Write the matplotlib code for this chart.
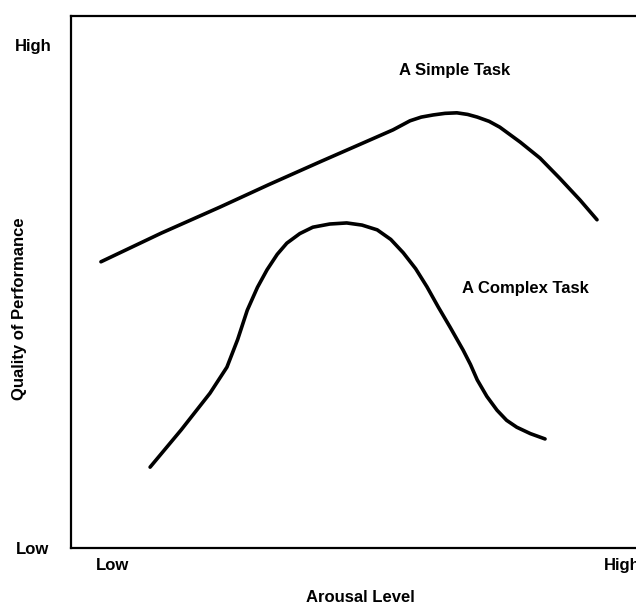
import matplotlib
matplotlib.use("Agg")
import matplotlib.pyplot as plt

# Data (arousal 0-100, performance 0-100)
simple_x = [5.3, 16.0, 26.4, 35.0, 44.1, 51.2, 57.0, 60.0, 62.0, 64.1, 66.2, 68.3, 70.2, 71.9, 74.0, 75.9,
            79.5, 83.0, 86.5, 90.1, 93.1]
simple_y = [53.8, 59.2, 64.1, 68.3, 72.6, 75.9, 78.6, 80.3, 81.0, 81.4, 81.7, 81.8, 81.5, 81.0, 80.2, 79.1,
            76.3, 73.3, 69.5, 65.4, 61.7]

complex_x = [14.0, 19.5, 24.6, 27.6, 29.5, 31.2, 33.0, 34.7, 36.5, 38.2, 40.5, 42.8, 45.8, 48.8, 51.5, 54.2,
             56.6, 58.8, 61.0, 63.0, 65.0, 67.1, 69.4, 70.7, 71.9, 73.6, 75.4, 77.1, 78.9, 81.3, 83.9]
complex_y = [15.2, 22.2, 29.1, 34.0, 39.2, 44.7, 49.0, 52.3, 55.2, 57.3, 59.1, 60.3, 60.9, 61.1, 60.7, 59.8,
             58.0, 55.5, 52.5, 49.1, 45.3, 41.5, 37.2, 34.5, 31.6, 28.5, 25.9, 24.0, 22.7, 21.5, 20.5]

x_ticks = [7.3, 97.6]
x_tick_labels = ["Low", "High"]
y_ticks = [0.0, 94.5]
y_tick_labels = ["Low", "High"]

FONT = "Liberation Sans"
FS = 12

fig = plt.figure(figsize=(6.36, 6.06), dpi=100)
ax = fig.add_axes([71 / 636, 58 / 606, 565 / 636, 532 / 606])

ax.plot(simple_x, simple_y, color="black", lw=2.6, solid_capstyle="round", solid_joinstyle="round")
ax.plot(complex_x, complex_y, color="black", lw=2.6, solid_capstyle="round", solid_joinstyle="round")

ax.set_xlim(0, 100)
ax.set_ylim(0, 100)

for side in ["left", "top", "bottom"]:
    ax.spines[side].set_linewidth(1.6)
ax.spines["right"].set_visible(False)

ax.set_xticks(x_ticks)
ax.set_xticklabels(x_tick_labels, fontsize=FS, fontweight="bold", family=FONT)
ax.set_yticks(y_ticks)
ax.set_yticklabels(y_tick_labels, fontsize=FS, fontweight="bold", family=FONT)
ax.tick_params(axis="x", length=0, pad=7.5)
ax.tick_params(axis="y", length=0, pad=27.4)
for lab in ax.get_yticklabels():
    lab.set_ha("center")

ax.set_xlabel("Arousal Level", fontsize=FS, fontweight="bold", family=FONT)
ax.xaxis.label.set_va("center")
ax.xaxis.set_label_coords((360 - 71) / 565, (548 - 598) / 532)

ax.set_ylabel("Quality of Performance", fontsize=FS, fontweight="bold", family=FONT)
ax.yaxis.label.set_va("center")
ax.yaxis.set_label_coords((20 - 71) / 565, (548 - 309) / 532)

ax.text(67.9, 89.7, "A Simple Task", fontsize=FS, fontweight="bold", family=FONT,
        ha="center", va="center")
ax.text(80.4, 48.7, "A Complex Task", fontsize=FS, fontweight="bold", family=FONT,
        ha="center", va="center")

fig.savefig("out.png", dpi=100)
